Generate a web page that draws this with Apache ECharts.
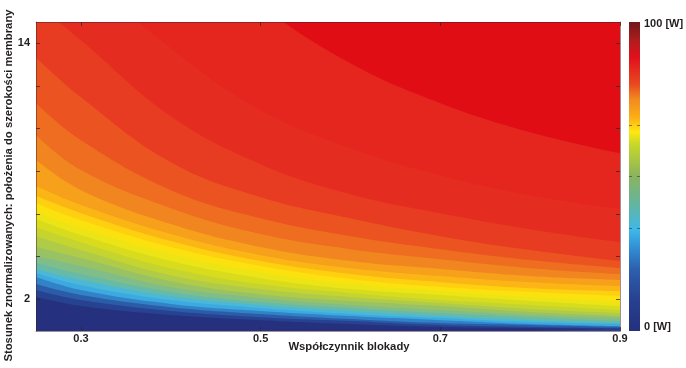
<!DOCTYPE html>
<html>
<head>
<meta charset="utf-8">
<style>
  html, body { margin: 0; padding: 0; background: #fff; }
  #chart { width: 686px; height: 368px; }
</style>
<script src="https://cdn.jsdelivr.net/npm/echarts@6/dist/echarts.min.js"></script>
</head>
<body>
<div id="chart"></div>
<script>
/* wartosci */
const wsp_blokady = [0.25, 0.3, 0.4, 0.5, 0.6, 0.7, 0.8, 0.9];

const iz_01 = [27.74, 24.45, 19.30, 15.78, 13.06, 11.19, 9.83, 8.84];
const iz_02 = [20.00, 17.42, 13.77, 10.86, 9.08, 7.81, 6.87, 6.22];
const iz_03 = [15.87, 14.14, 10.58, 8.33, 6.92, 6.03, 5.28, 4.67];
const iz_04 = [13.34, 11.47, 8.42, 6.78, 5.79, 4.95, 4.30, 3.78];
const iz_05 = [11.19, 9.45, 7.11, 5.79, 4.95, 4.34, 3.83, 3.45];
const iz_06 = [9.69, 8.05, 6.26, 5.05, 4.34, 3.87, 3.45, 3.17];
const iz_07 = [8.52, 7.11, 5.52, 4.44, 3.78, 3.41, 3.08, 2.89];
const iz_08 = [7.30, 6.41, 5.05, 4.06, 3.45, 3.08, 2.79, 2.61];
const iz_09 = [6.83, 6.03, 4.72, 3.78, 3.17, 2.79, 2.51, 2.37];
const iz_10 = [6.50, 5.70, 4.44, 3.55, 2.94, 2.56, 2.33, 2.14];
const iz_11 = [6.08, 5.33, 4.11, 3.26, 2.70, 2.37, 2.09, 1.86];
const iz_12 = [5.75, 5.00, 3.78, 2.98, 2.47, 2.19, 1.91, 1.67];
const iz_13 = [5.37, 4.67, 3.45, 2.70, 2.28, 1.95, 1.72, 1.48];
const iz_14 = [4.95, 4.30, 3.12, 2.47, 2.09, 1.81, 1.53, 1.34];
const iz_15 = [4.44, 3.92, 2.84, 2.23, 1.91, 1.67, 1.39, 1.20];
const iz_16 = [4.01, 3.55, 2.56, 2.05, 1.72, 1.48, 1.25, 1.11];
const iz_17 = [3.69, 3.17, 2.33, 1.86, 1.58, 1.34, 1.15, 0.97];
const iz_18 = [3.41, 2.89, 2.14, 1.72, 1.44, 1.20, 1.01, 0.87];
const iz_19 = [3.22, 2.65, 1.95, 1.58, 1.30, 1.11, 0.92, 0.83];
const iz_20 = [3.03, 2.42, 1.77, 1.44, 1.20, 1.01, 0.83, 0.73];
const iz_21 = [2.70, 2.19, 1.62, 1.30, 1.06, 0.87, 0.78, 0.69];
const iz_22 = [2.42, 1.95, 1.44, 1.15, 0.97, 0.78, 0.69, 0.64];
const iz_23 = [2.09, 1.67, 1.25, 1.01, 0.83, 0.69, 0.64, 0.59];

const izolinie = [iz_01, iz_02, iz_03, iz_04, iz_05, iz_06, iz_07, iz_08, iz_09, iz_10, iz_11, iz_12,
                  iz_13, iz_14, iz_15, iz_16, iz_17, iz_18, iz_19, iz_20, iz_21, iz_22, iz_23];

const kolory_pasm = ['#e5261f', '#e52c20', '#e73c21', '#eb5421', '#ee6d20', '#f18620', '#f6a01b', '#fbb615',
                     '#ffd010', '#fbe20e', '#ece414', '#d8dc1c', '#c6d430', '#b0cb48', '#98c264', '#80bd88',
                     '#66baa8', '#4ab8d6', '#3caae0', '#3282c8', '#2b5ca8', '#274290', '#25317e'];

const ticki_x = [0.3, 0.5, 0.7, 0.9];
const ticki_y = [2, 4, 6, 8, 10, 12, 14];
const etykiety_y = [2, 14];
const ticki_skali = [33.33, 50, 66.67];
const skala_w = [100];

const KOLOR_TEKSTU = '#231f20';
const FONT = '"Liberation Sans", Arial, sans-serif';
const OS_LINIA = { show: true, lineStyle: { color: 'rgba(70,30,40,0.5)', width: 1 } };
const OS_TICK = { show: true, inside: true, length: 4, lineStyle: { color: 'rgba(40,40,40,0.75)', width: 1 } };

var myChart = echarts.init(document.getElementById('chart'));

const pasma = izolinie.map(function (iz, i) {
    return {
        type: 'line',
        xAxisIndex: 0,
        yAxisIndex: 0,
        smooth: 0.4,
        showSymbol: false,
        silent: true,
        clip: true,
        lineStyle: { width: 0 },
        areaStyle: { color: kolory_pasm[i], opacity: 1, origin: 'start' },
        z: 2,
        data: iz.map(function (v, j) { return [wsp_blokady[j], v]; })
    };
});

var option = {
    animation: false,
    backgroundColor: '#fff',
    grid: [
        { left: 36, right: 66, top: 22, bottom: 37, show: true, backgroundColor: '#e00d14', borderWidth: 0, outerBoundsMode: 'none' },
        { left: 629, width: 11, top: 22, bottom: 37, outerBoundsMode: 'none' }
    ],
    xAxis: [
        {
            type: 'value', gridIndex: 0, min: 0.25, max: 0.9, z: 5,
            name: 'Współczynnik blokady',
            nameLocation: 'middle',
            nameGap: 10,
            nameMoveOverlap: false,
            nameTextStyle: { color: KOLOR_TEKSTU, fontFamily: FONT, fontWeight: 'bold', fontSize: 11.3, padding: [0, 0, 0, 42] },
            axisLine: OS_LINIA,
            axisTick: Object.assign({ customValues: ticki_x }, OS_TICK),
            splitLine: { show: false },
            axisLabel: {
                customValues: ticki_x, margin: 2, color: KOLOR_TEKSTU,
                fontFamily: FONT, fontWeight: 'bold', fontSize: 11,
                formatter: function (v) { return v.toFixed(1); }
            }
        },
        {
            type: 'value', gridIndex: 0, min: 0.25, max: 0.9, z: 5, position: 'top',
            axisLine: OS_LINIA,
            axisTick: Object.assign({ customValues: ticki_x }, OS_TICK),
            splitLine: { show: false },
            axisLabel: { show: false }
        },
        {
            type: 'category', gridIndex: 1, data: ['W'], show: false
        }
    ],
    yAxis: [
        {
            type: 'value', gridIndex: 0, min: 0.5, max: 15, z: 5,
            name: 'Stosunek znormalizowanych: położenia do szerokości membrany',
            nameLocation: 'middle',
            nameGap: 22,
            nameMoveOverlap: false,
            nameTextStyle: { color: KOLOR_TEKSTU, fontFamily: FONT, fontWeight: 'bold', fontSize: 11.3, padding: [0, 18, 0, 0] },
            axisLine: OS_LINIA,
            axisTick: Object.assign({ customValues: ticki_y }, OS_TICK),
            splitLine: { show: false },
            axisLabel: {
                customValues: etykiety_y, margin: 6, color: KOLOR_TEKSTU,
                fontFamily: FONT, fontWeight: 'bold', fontSize: 11
            }
        },
        {
            type: 'value', gridIndex: 0, min: 0.5, max: 15, z: 5, position: 'right',
            axisLine: OS_LINIA,
            axisTick: Object.assign({ customValues: ticki_y }, OS_TICK),
            splitLine: { show: false },
            axisLabel: { show: false }
        },
        {
            type: 'value', gridIndex: 1, min: 0, max: 100, z: 5, position: 'right',
            axisLine: { show: false },
            axisTick: { show: true, inside: true, length: 11, customValues: ticki_skali, lineStyle: { color: 'rgba(40,50,40,0.55)', width: 1, type: [3, 5] } },
            splitLine: { show: false },
            axisLabel: {
                customValues: [1.3, 99.3], margin: 4, color: KOLOR_TEKSTU,
                fontFamily: FONT, fontWeight: 'bold', fontSize: 11,
                formatter: function (v) { return v > 50 ? '100 [W]' : '0 [W]'; }
            }
        }
    ],
    series: pasma.concat([
        {
            name: 'skala',
            type: 'bar',
            xAxisIndex: 2,
            yAxisIndex: 2,
            barWidth: '100%',
            silent: true,
            itemStyle: {
                color: new echarts.graphic.LinearGradient(0, 0, 0, 1, [
                    { offset: 0, color: '#6e1a1c' },
                    { offset: 0.06, color: '#b01c1e' },
                    { offset: 0.113, color: '#e0101c' },
                    { offset: 0.2, color: '#e8481f' },
                    { offset: 0.25, color: '#f18a20' },
                    { offset: 0.31, color: '#fbb015' },
                    { offset: 0.356, color: '#ffe810' },
                    { offset: 0.395, color: '#c8d828' },
                    { offset: 0.495, color: '#8cb45c' },
                    { offset: 0.59, color: '#64b4a0' },
                    { offset: 0.673, color: '#3eb8e8' },
                    { offset: 0.74, color: '#3088d0' },
                    { offset: 0.8, color: '#2c60ae' },
                    { offset: 0.9, color: '#284090' },
                    { offset: 1, color: '#24307e' }
                ])
            },
            data: skala_w
        }
    ])
};

myChart.setOption(option);
</script>
</body>
</html>
